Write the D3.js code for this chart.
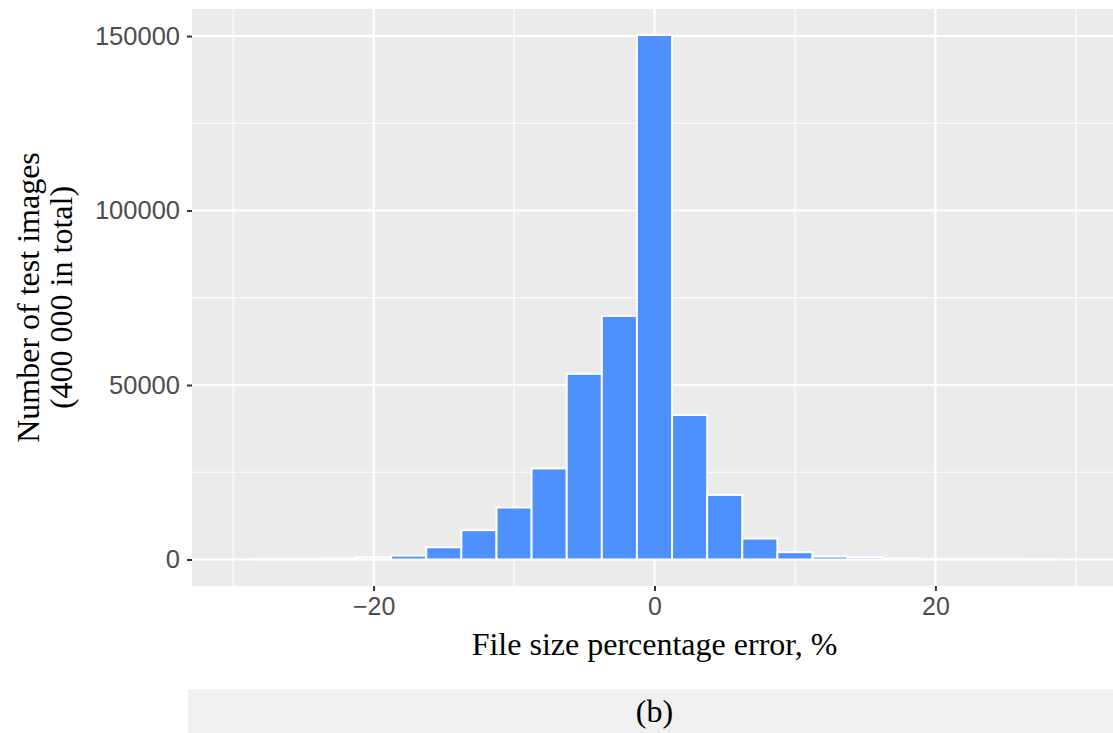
<!DOCTYPE html>
<html>
<head>
<meta charset="utf-8">
<script src="https://cdn.jsdelivr.net/npm/d3@7"></script>
<style>
  body { margin: 0; background: #fff; }
  svg { display: block; }
</style>
</head>
<body>
<svg id="chart" width="1113" height="733"></svg>
<script>
// histogram bins (width 2.5), centre of each bin and count
const binCenters = [-27.5, -25, -22.5, -20, -17.5, -15, -12.5, -10, -7.5, -5, -2.5, 0,
                    2.5, 5, 7.5, 10, 12.5, 15, 17.5, 20, 22.5, 25, 27.5];
const binCounts = [50, 100, 250, 600, 1100, 3500, 8400, 14900, 26100, 53200, 69800, 150300,
                   41400, 18500, 6000, 2100, 850, 650, 300, 150, 100, 60, 30];
const binWidth = 2.5;

const xTicks = [-20, 0, 20];
const xMinor = [-30, -10, 10, 30];
const yTicks = [0, 50000, 100000, 150000];
const yMinor = [25000, 75000, 125000];

const view = {
  width: 1113,
  height: 733,
  panelLeft: 192,
  panelRight: 1117,
  panelTop: 9,
  panelBottom: 586,
  panelBg: "#ebebeb",
  barFill: "#4d90fe",
  serif: "'Liberation Serif', 'DejaVu Serif', serif",
  sans: "'Liberation Sans', Arial, sans-serif"
};

const svg = d3.select("svg#chart");

const x = d3.scaleLinear()
  .domain([-32.93, 32.93])
  .range([view.panelLeft, view.panelRight]);

const y = d3.scaleLinear()
  .domain([-7600, 157750])
  .range([view.panelBottom, view.panelTop]);

// panel background
svg.append("rect")
  .attr("x", view.panelLeft)
  .attr("y", view.panelTop)
  .attr("width", view.panelRight - view.panelLeft)
  .attr("height", view.panelBottom - view.panelTop)
  .attr("fill", view.panelBg);

const grid = svg.append("g");

// minor grid lines
grid.selectAll("line.xminor")
  .data(xMinor)
  .join("line")
  .attr("x1", d => x(d)).attr("x2", d => x(d))
  .attr("y1", view.panelTop).attr("y2", view.panelBottom)
  .attr("stroke", "#fff").attr("stroke-width", 1.1);

grid.selectAll("line.yminor")
  .data(yMinor)
  .join("line")
  .attr("y1", d => y(d)).attr("y2", d => y(d))
  .attr("x1", view.panelLeft).attr("x2", view.panelRight)
  .attr("stroke", "#fff").attr("stroke-width", 1.1);

// major grid lines
grid.selectAll("line.xmajor")
  .data(xTicks)
  .join("line")
  .attr("x1", d => x(d)).attr("x2", d => x(d))
  .attr("y1", view.panelTop).attr("y2", view.panelBottom)
  .attr("stroke", "#fff").attr("stroke-width", 2.2);

grid.selectAll("line.ymajor")
  .data(yTicks)
  .join("line")
  .attr("y1", d => y(d)).attr("y2", d => y(d))
  .attr("x1", view.panelLeft).attr("x2", view.panelRight)
  .attr("stroke", "#fff").attr("stroke-width", 2.2);

// histogram bars
const bins = binCenters.map((c, i) => ({ x0: c - binWidth / 2, x1: c + binWidth / 2, n: binCounts[i] }));

svg.append("g")
  .selectAll("rect")
  .data(bins)
  .join("rect")
  .attr("x", d => x(d.x0))
  .attr("width", d => x(d.x1) - x(d.x0))
  .attr("y", d => y(d.n))
  .attr("height", d => y(0) - y(d.n))
  .attr("fill", view.barFill)
  .attr("stroke", "#fff")
  .attr("stroke-width", 2);

// axes
const xAxis = svg.append("g")
  .attr("transform", `translate(0,${view.panelBottom})`)
  .call(d3.axisBottom(x).tickValues(xTicks).tickSize(5).tickPadding(6)
        .tickFormat(d => d < 0 ? "\u2212" + Math.abs(d) : d));
xAxis.select(".domain").remove();
xAxis.selectAll("line").attr("stroke", "#333").attr("stroke-width", 2);
xAxis.selectAll("text")
  .attr("fill", "#4d4d4d")
  .style("font-family", view.sans)
  .style("font-size", "25px");

const yAxis = svg.append("g")
  .attr("transform", `translate(${view.panelLeft},0)`)
  .call(d3.axisLeft(y).tickValues(yTicks).tickSize(5).tickPadding(7)
        .tickFormat(d => String(d)));
yAxis.select(".domain").remove();
yAxis.selectAll("line").attr("stroke", "#333").attr("stroke-width", 2);
yAxis.selectAll("text")
  .attr("fill", "#4d4d4d")
  .style("font-family", view.sans)
  .style("font-size", "25.5px");

// axis titles
svg.append("text")
  .attr("x", x(0))
  .attr("y", 655)
  .attr("text-anchor", "middle")
  .style("font-family", view.serif)
  .style("font-size", "32px")
  .attr("fill", "#000")
  .text("File size percentage error, %");

const yTitle = svg.append("text")
  .attr("transform", `translate(0,${(view.panelTop + view.panelBottom) / 2}) rotate(-90)`)
  .attr("text-anchor", "middle")
  .style("font-family", view.serif)
  .style("font-size", "32px")
  .attr("fill", "#000");
yTitle.append("tspan").attr("x", 0).attr("y", 39).text("Number of test images");
yTitle.append("tspan").attr("x", 0).attr("y", 72).text("(400 000 in total)");

// caption strip
svg.append("rect")
  .attr("x", 188)
  .attr("y", 689)
  .attr("width", view.width - 188)
  .attr("height", 44)
  .attr("fill", "#f0f0f0");

svg.append("text")
  .attr("x", x(0))
  .attr("y", 722)
  .attr("text-anchor", "middle")
  .style("font-family", view.serif)
  .style("font-size", "32px")
  .attr("fill", "#000")
  .text("(b)");
</script>
</body>
</html>
